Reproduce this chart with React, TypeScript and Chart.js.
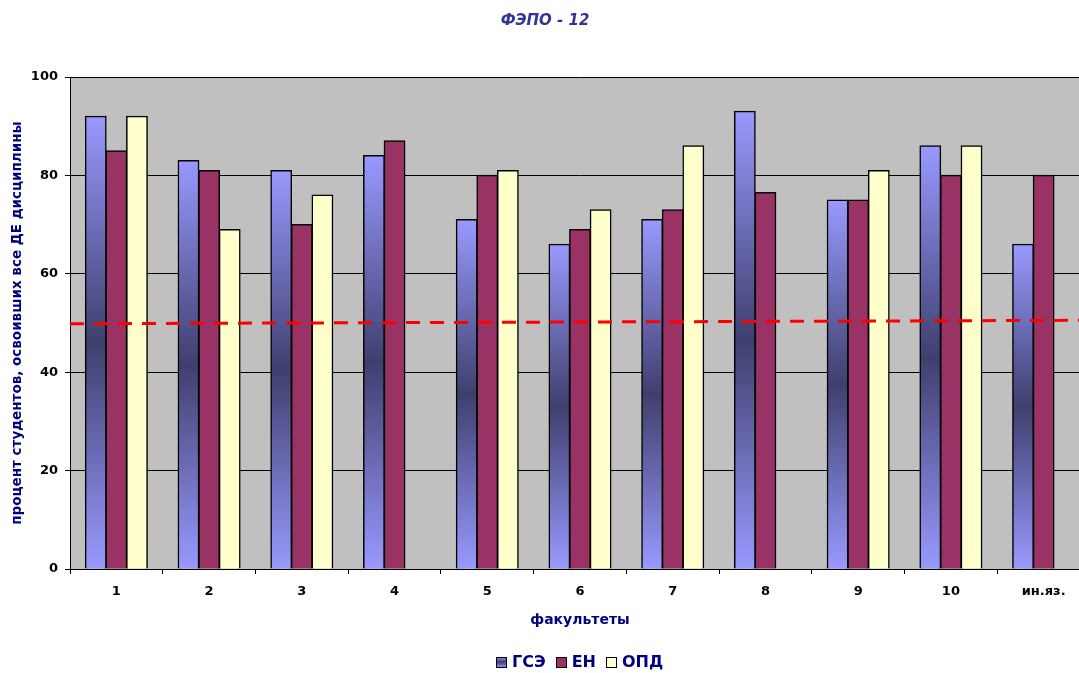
import React, { useEffect, useRef } from "react";
import { Chart, registerables } from "chart.js";

Chart.register(...registerables);

const categories = ["1", "2", "3", "4", "5", "6", "7", "8", "9", "10", "ин.яз."];
const seriesNames = ["ГСЭ", "ЕН", "ОПД"];
const gseValues = [92, 83, 81, 84, 71, 66, 71, 93, 75, 86, 66];
const enValues = [85, 81, 70, 87, 80, 69, 73, 76.5, 75, 80, 80];
const opdValues = [92, 69, 76, null, 81, 73, 86, null, 81, 86, null];
const thresholdY = [49.85, 50.55];
const yTicks = [0, 20, 40, 60, 80, 100];

const chartTitle = "ФЭПО - 12";
const xTitle = "факультеты";
const yTitle = "процент студентов, освоивших все ДЕ дисциплины";

const FONT = "'DejaVu Sans', 'Liberation Sans', Arial, sans-serif";
const LIGHT = "#9999FF";
const DARK = "#3F3F6E";
const EN_COLOR = "#993366";
const OPD_COLOR = "#FFFFCC";

const xMin = -0.5;
const xMax = categories.length - 0.5;

function makeGradient(ctx: CanvasRenderingContext2D, y0: number, y1: number) {
  const g = ctx.createLinearGradient(0, y0, 0, y1);
  g.addColorStop(0, LIGHT);
  g.addColorStop(0.5, DARK);
  g.addColorStop(1, LIGHT);
  return g;
}

const toPoints = (vals: (number | null)[]) => vals.map((y, i) => ({ x: i, y }));

const overlayPlugin = {
  id: "overlay",
  afterDraw(chart: any) {
    const ctx: CanvasRenderingContext2D = chart.ctx;
    const area = chart.chartArea;
    ctx.save();
    ctx.font = `italic bold 15px ${FONT}`;
    ctx.fillStyle = "#333399";
    ctx.textAlign = "center";
    ctx.textBaseline = "middle";
    ctx.fillText(chartTitle, 545, 21);

    ctx.font = `bold 16px ${FONT}`;
    const box = 11;
    const gapBoxText = 5;
    const gapItems = 10;
    const widths = seriesNames.map((n) => ctx.measureText(n).width);
    const total =
      widths.reduce((a, w) => a + box + gapBoxText + w, 0) + gapItems * (seriesNames.length - 1);
    let x = Math.round((area.left + area.right) / 2 - total / 2);
    const cy = 662;
    const fills: any[] = [makeGradient(ctx, cy - box / 2, cy + box / 2), EN_COLOR, OPD_COLOR];
    seriesNames.forEach((n, i) => {
      const bx = Math.round(x);
      const by = Math.round(cy - box / 2);
      ctx.fillStyle = fills[i];
      ctx.fillRect(bx, by, box, box);
      ctx.strokeStyle = "#000";
      ctx.lineWidth = 1;
      ctx.strokeRect(bx + 0.5, by + 0.5, box - 1, box - 1);
      ctx.fillStyle = "#000080";
      ctx.textAlign = "left";
      ctx.fillText(n, x + box + gapBoxText, cy + 1);
      x += box + gapBoxText + widths[i] + gapItems;
    });
    ctx.restore();
  },
};

const bgPlugin = {
  id: "plotBg",
  beforeDraw(chart: any) {
    const { ctx, chartArea } = chart;
    if (!chartArea) return;
    ctx.save();
    ctx.fillStyle = "#C0C0C0";
    ctx.fillRect(chartArea.left, chartArea.top, chartArea.right - chartArea.left, chartArea.bottom - chartArea.top);
    ctx.restore();
  },
};

const barCommon = {
  borderColor: "#000",
  borderWidth: 1.5,
  inflateAmount: 0.6,
  categoryPercentage: 3 / 4.5,
  barPercentage: 1,
  order: 1,
};

export default function App() {
  const ref = useRef<HTMLCanvasElement>(null);

  useEffect(() => {
    if (!ref.current) return;
    Chart.defaults.font.family = FONT;
    const chart = new Chart(ref.current, {
      type: "bar",
      data: {
        datasets: [
          {
            type: "line",
            label: "threshold",
            data: [
              { x: xMin, y: thresholdY[0] },
              { x: xMax, y: thresholdY[1] },
            ],
            borderColor: "#FF0000",
            borderWidth: 3,
            borderDash: [14, 10],
            pointRadius: 0,
            fill: false,
            order: 0,
          } as any,
          {
            ...barCommon,
            label: seriesNames[0],
            data: toPoints(gseValues),
            backgroundColor: (c: any) => {
              const ch = c.chart;
              if (!ch.chartArea || c.type !== "data" || c.raw == null || c.raw.y == null) return LIGHT;
              const y0 = ch.scales.y.getPixelForValue(c.raw.y);
              const y1 = ch.scales.y.getPixelForValue(0);
              return makeGradient(ch.ctx, y0, y1);
            },
          },
          {
            ...barCommon,
            label: seriesNames[1],
            data: toPoints(enValues),
            backgroundColor: EN_COLOR,
          },
          {
            ...barCommon,
            label: seriesNames[2],
            data: toPoints(opdValues),
            backgroundColor: OPD_COLOR,
          },
        ],
      },
      options: {
        responsive: false,
        animation: false,
        layout: { padding: { left: 0, right: 3, top: 77, bottom: 28 } },
        plugins: {
          legend: { display: false },
          title: { display: false },
          tooltip: { enabled: false },
        },
        scales: {
          x: {
            type: "linear",
            min: xMin,
            max: xMax,
            offset: false,
            afterBuildTicks: (s: any) => {
              s.ticks = categories.map((_, i) => ({ value: i }));
            },
            grid: {
              display: true,
              drawOnChartArea: false,
              drawTicks: true,
              tickLength: 5,
              color: "#000",
              offset: true,
            },
            border: { color: "#000", width: 1 },
            ticks: {
              color: "#000",
              font: { size: 13, weight: "bold" },
              padding: 10,
              maxRotation: 0,
              autoSkip: false,
              callback: (v: any) => categories[Math.round(v)] ?? "",
            },
            title: {
              display: true,
              text: xTitle,
              color: "#000080",
              font: { size: 14, weight: "bold" },
              padding: { top: 0, bottom: 16 },
            },
            afterFit: (s: any) => {
              s.height = 76;
            },
          },
          y: {
            min: 0,
            max: 100,
            afterBuildTicks: (s: any) => {
              s.ticks = yTicks.map((v) => ({ value: v }));
            },
            grid: {
              color: "#000",
              lineWidth: 1,
              tickLength: 5,
              drawTicks: true,
            },
            border: { color: "#000", width: 1 },
            ticks: {
              color: "#000",
              font: { size: 13, weight: "bold" },
              padding: 7,
            },
            title: {
              display: true,
              text: yTitle,
              color: "#000080",
              font: { size: 13.5, weight: "bold" },
              padding: { top: 9, bottom: 0 },
            },
            afterFit: (s: any) => {
              s.width = 70;
            },
          },
        },
      } as any,
      plugins: [bgPlugin, overlayPlugin],
    });
    return () => chart.destroy();
  }, []);

  return (
    <div
      style={{
        position: "fixed",
        left: 0,
        top: 0,
        width: 1079,
        height: 673,
        overflow: "hidden",
        background: "#fff",
      }}
    >
      <canvas ref={ref} width={1093} height={673} style={{ width: 1093, height: 673, display: "block" }} />
    </div>
  );
}
